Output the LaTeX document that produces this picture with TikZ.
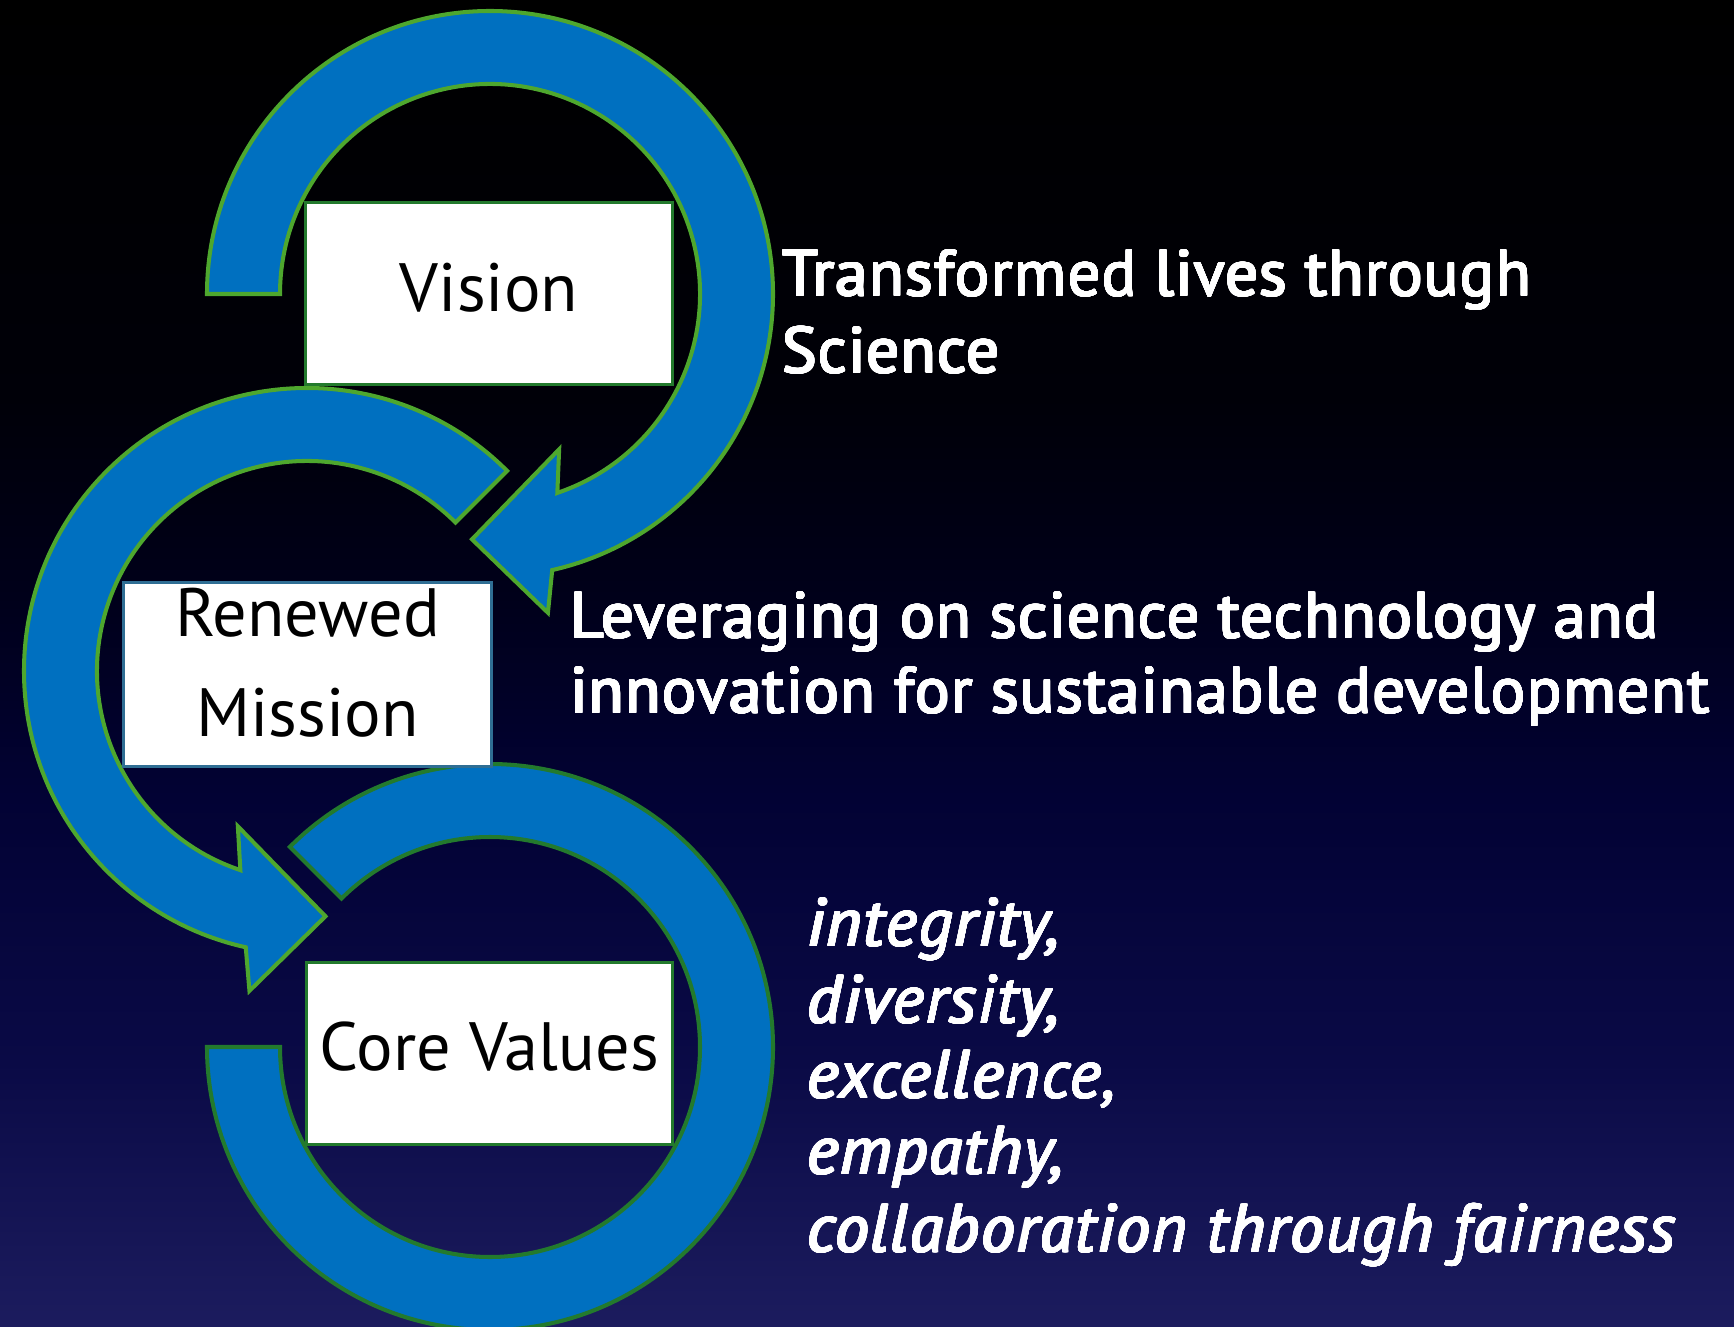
\documentclass[tikz,border=0pt]{standalone}
\usepackage{fontspec}
\setmainfont{PT Sans}
\usepackage{contour}
\contourlength{0.45pt}
\contournumber{24}
\definecolor{arrowblue}{HTML}{0070C0}
\definecolor{litegreen}{HTML}{4EA72E}
\definecolor{deepgreen}{HTML}{237A2D}
\definecolor{tealedge}{HTML}{2F6E94}
\definecolor{bgA}{RGB}{28,28,94}
\definecolor{bgB}{RGB}{10,10,70}
\definecolor{bgC}{RGB}{2,2,52}
\definecolor{bgD}{RGB}{0,0,26}
\definecolor{bgE}{RGB}{0,0,8}
\pgfdeclareverticalshading{bgshade}{100bp}{color(0bp)=(bgA); color(25bp)=(bgA); color(35bp)=(bgB); color(45bp)=(bgC); color(52.5bp)=(bgD); color(60bp)=(bgE); color(75bp)=(black); color(100bp)=(black)}
\newcommand{\wtxt}[1]{\contour{white}{#1}}
\tikzset{
  ring/.style={fill=arrowblue, line width=2.3pt, line join=miter},
  box/.style={draw, fill=white, line width=1.7pt, inner sep=0pt, text=black,
    font=\fontsize{38.9}{56.7}\selectfont},
  rtext/.style={anchor=base west, inner sep=0pt, text=white,
    font=\fontsize{37}{43}\selectfont\addfontfeatures{LetterSpace=1.6}},
  itext/.style={anchor=base west, inner sep=0pt, text=white,
    font=\fontsize{38.5}{43}\selectfont\itshape\addfontfeatures{LetterSpace=2.3}}
}
\begin{document}
\begin{tikzpicture}[x=0.02cm, y=0.02cm]
\useasboundingbox (0,0) rectangle (1734,-1327);
\clip (0,0) rectangle (1734,-1327);
\shade[shading=bgshade] (0,0) rectangle (1734,-1327);

% top circular arrow
\begin{scope}[shift={(490,-294)}]
\filldraw[ring, draw=litegreen] (180:283) arc[start angle=180, end angle=-77.3, radius=283]
  -- (-79.7:324) -- (-94.2:246) -- (-66:170) -- (-71.3:210)
  arc[start angle=-71.3, end angle=180, radius=210] -- cycle;
\end{scope}

% middle circular arrow
\begin{scope}[shift={(307,-671)}]
\filldraw[ring, draw=litegreen] (45:283) arc[start angle=45, end angle=257.5, radius=283]
  -- (259.8:325) -- (274.3:246) -- (246:170) -- (251.5:210)
  arc[start angle=251.5, end angle=45, radius=210] -- cycle;
\end{scope}

% bottom open ring
\begin{scope}[shift={(490,-1047)}]
\filldraw[ring, draw=deepgreen] (135:283) arc[start angle=135, end angle=-180, radius=283]
  -- (180:210) arc[start angle=-180, end angle=135, radius=210] -- cycle;
\end{scope}

% boxes
\node[box, draw=deepgreen, minimum width=7.36cm, minimum height=3.66cm, text depth=0.26cm] (vision) at (489,-293.5) {Vision};
\node[box, draw=tealedge, minimum width=7.38cm, minimum height=3.7cm, align=center, text depth=0.48cm] (mission) at (307.5,-674.5) {Renewed\\Mission};
\node[box, draw=deepgreen, minimum width=7.34cm, minimum height=3.66cm, text depth=0.28cm] (values) at (489.5,-1053.5) {Core Values};

% texts
\node[rtext] (vis1) at (782,-296) {\wtxt{Transformed lives through}};
\node[rtext] (vis2) at (782,-373) {\wtxt{Science}};
\node[rtext] (mis1) at (570,-638) {\wtxt{Leveraging on science technology and}};
\node[rtext] (mis2) at (570,-713) {\wtxt{innovation for sustainable development}};
\node[itext] (val1) at (807,-946) {\wtxt{integrity,}};
\node[itext] (val2) at (807,-1023) {\wtxt{diversity,}};
\node[itext] (val3) at (807,-1098) {\wtxt{excellence,}};
\node[itext] (val4) at (807,-1174) {\wtxt{empathy,}};
\node[itext] (val5) at (807,-1252) {\wtxt{collaboration through fairness}};
\end{tikzpicture}
\end{document}
